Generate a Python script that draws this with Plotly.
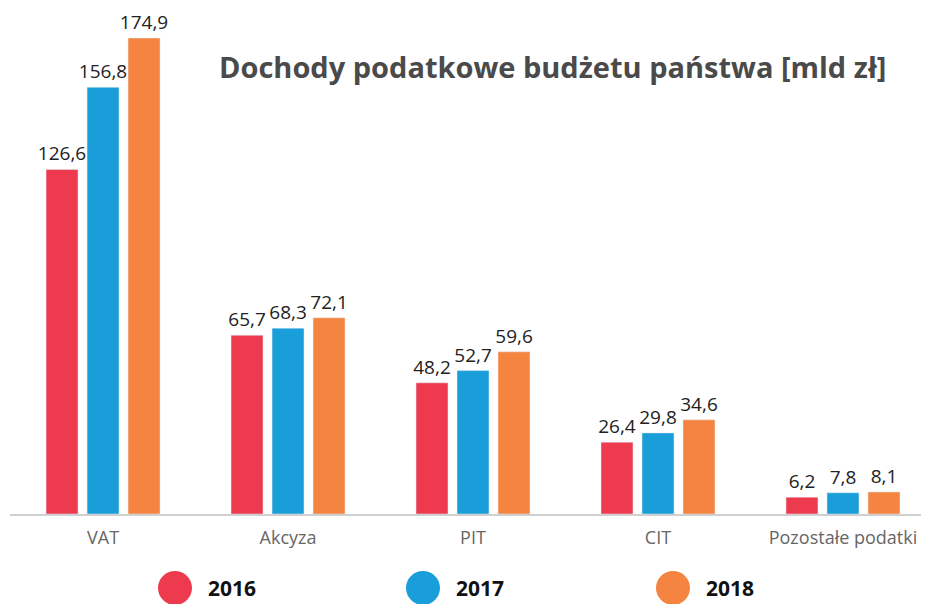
import plotly.graph_objects as go

categories = ["VAT", "Akcyza", "PIT", "CIT", "Pozostałe podatki"]
years = ["2016", "2017", "2018"]
v2016 = [126.6, 65.7, 48.2, 26.4, 6.2]
v2017 = [156.8, 68.3, 52.7, 29.8, 7.8]
v2018 = [174.9, 72.1, 59.6, 34.6, 8.1]

colors = ["#EE3A4F", "#1A9ED9", "#F4843F"]
series = [v2016, v2017, v2018]

fig = go.Figure()
for name, vals, col in zip(years, series, colors):
    fig.add_trace(go.Bar(
        x=categories, y=vals, name=name, marker_color=col,
        texttemplate="%{y:.1f}", textposition="outside",
        textfont=dict(size=19, color="#222222", family="Open Sans"),
        constraintext="none", cliponaxis=False,
    ))

# page body has an 8px margin, so the margins are shifted accordingly
fig.update_layout(
    width=929, height=604,
    margin=dict(l=2, r=8, t=2, b=98),
    plot_bgcolor="white", paper_bgcolor="white",
    barmode="group", bargap=0.335, bargroupgap=0.22,
    separators=", ",
    showlegend=False,
    font=dict(family="Open Sans"),
)
fig.update_xaxes(range=[-0.503, 4.465], showline=True, linecolor="#d0d0d0", linewidth=2,
                 ticks="", ticklabelstandoff=6,
                 tickfont=dict(size=18, color="#666666"))
fig.update_yaxes(range=[0, 185.2], visible=False)

fig.add_annotation(
    text="<b>Dochody podatkowe budżetu państwa [mld zł]</b>",
    xref="paper", yref="paper", x=(552 - 10) / 919, y=(514 - 66) / 504,
    xanchor="center", yanchor="middle", showarrow=False,
    font=dict(size=29, color="#4a4a4a", family="Open Sans"),
)

# custom legend with large circles
leg_x = [175, 423, 673]
for xc, name, col in zip(leg_x, years, colors):
    fig.add_shape(type="circle", xref="paper", yref="paper",
                  xsizemode="pixel", ysizemode="pixel",
                  xanchor=(xc - 10) / 919, yanchor=(514 - 588) / 504,
                  x0=-17, x1=17, y0=-17, y1=17,
                  fillcolor=col, line_width=0)
    fig.add_annotation(text="<b>" + name + "</b>", xref="paper", yref="paper",
                       x=(xc + 31 - 10) / 919, y=(514 - 588) / 504,
                       xanchor="left", yanchor="middle", showarrow=False,
                       font=dict(size=21, color="#111111", family="Open Sans"))

fig.write_html("out.html")
